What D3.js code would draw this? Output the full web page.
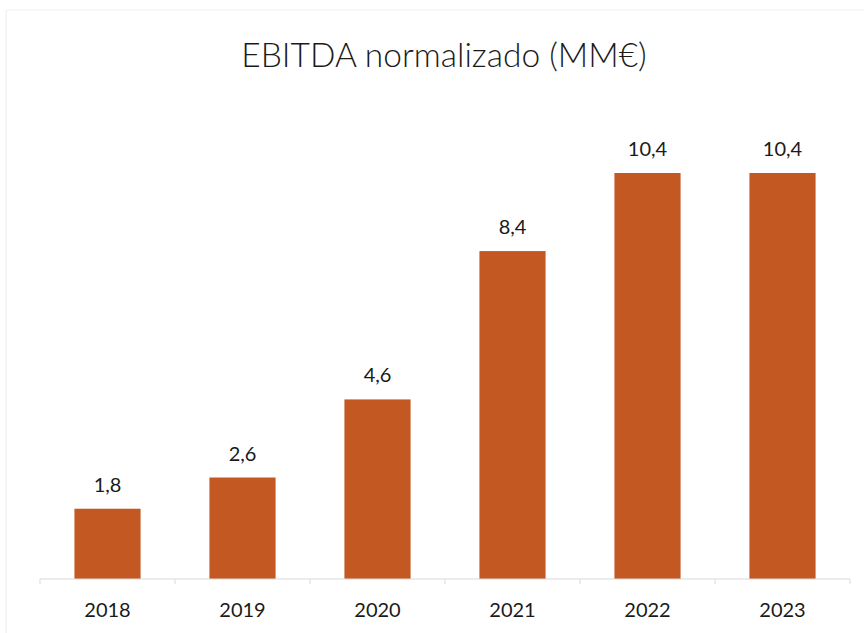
<!DOCTYPE html>
<html>
<head>
<meta charset="utf-8">
<script src="https://cdn.jsdelivr.net/npm/d3@7"></script>
<style>
  body { margin: 0; background: #fff; }
  text { font-family: Lato, "Open Sans", sans-serif; fill: #1a1a1a; }
</style>
</head>
<body>
<svg id="chart" width="864" height="633"></svg>
<script>
// values
var years = ["2018", "2019", "2020", "2021", "2022", "2023"];
var ebitda = [1.8, 2.6, 4.6, 8.4, 10.4, 10.4];
var labels = ["1,8", "2,6", "4,6", "8,4", "10,4", "10,4"];

var svg = d3.select("#chart"),
    width = +svg.attr("width"),
    height = +svg.attr("height");

var margin = {top: 0, left: 40, right: 14, bottom: 54};
var baseY = 579;

var x = d3.scaleBand()
    .domain(years)
    .range([margin.left, width - margin.right])
    .paddingInner(0.51)
    .paddingOuter(0.255);

var y = d3.scaleLinear()
    .domain([0, 10.4])
    .range([baseY, 173]);

// faint frame of the scanned chart
svg.append("line")
    .attr("x1", 6).attr("x2", 6).attr("y1", 10).attr("y2", 633)
    .attr("stroke", "#ececec");
svg.append("line")
    .attr("x1", 6).attr("x2", 864).attr("y1", 10).attr("y2", 10)
    .attr("stroke", "#f0f0f0");

svg.append("text")
    .attr("x", 444)
    .attr("y", 67)
    .attr("text-anchor", "middle")
    .style("font-size", "33.5px")
    .style("font-weight", 300)
    .text("EBITDA normalizado (MM€)");

svg.append("g")
    .selectAll("rect")
    .data(ebitda)
    .enter().append("rect")
    .attr("x", function (d, i) { return x(years[i]); })
    .attr("y", function (d) { return y(d); })
    .attr("width", x.bandwidth())
    .attr("height", function (d) { return baseY - y(d); })
    .attr("fill", "#c35823");

svg.append("g")
    .selectAll("text")
    .data(ebitda)
    .enter().append("text")
    .attr("x", function (d, i) { return x(years[i]) + x.bandwidth() / 2; })
    .attr("y", function (d) { return y(d) - 17; })
    .attr("text-anchor", "middle")
    .style("font-size", "20px")
    .text(function (d, i) { return labels[i]; });

// x axis with ticks between categories
var axis = svg.append("g");
axis.append("line")
    .attr("x1", margin.left).attr("x2", width - margin.right)
    .attr("y1", baseY).attr("y2", baseY)
    .attr("stroke", "#d9d9d9");

var step = x.step();
axis.selectAll(".tick")
    .data(d3.range(years.length + 1))
    .enter().append("line")
    .attr("x1", function (i) { return margin.left + i * step; })
    .attr("x2", function (i) { return margin.left + i * step; })
    .attr("y1", baseY).attr("y2", baseY + 5)
    .attr("stroke", "#d9d9d9");

axis.selectAll("text")
    .data(years)
    .enter().append("text")
    .attr("x", function (d) { return x(d) + x.bandwidth() / 2; })
    .attr("y", 617)
    .attr("text-anchor", "middle")
    .style("font-size", "20px")
    .text(function (d) { return d; });
</script>
</body>
</html>
